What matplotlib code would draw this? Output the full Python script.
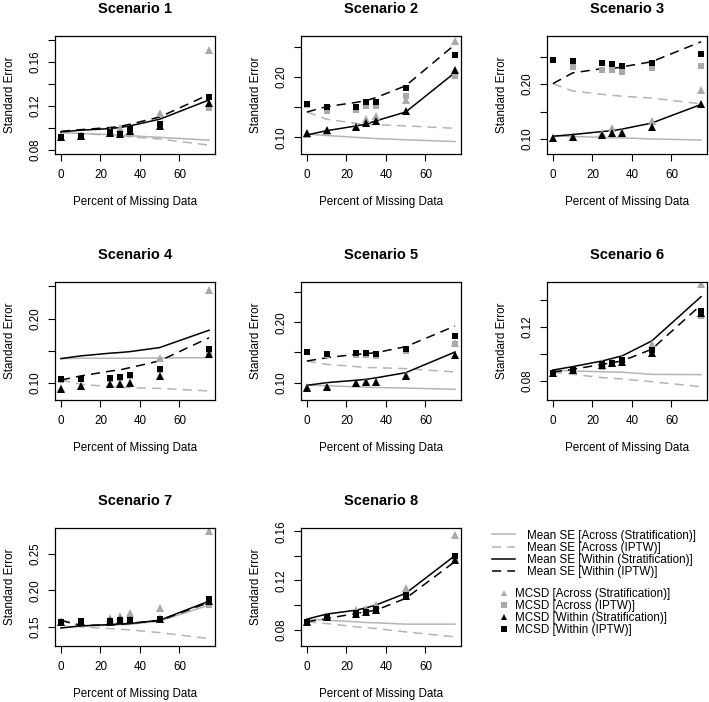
import matplotlib
matplotlib.use("Agg")
import matplotlib.pyplot as plt
from matplotlib.lines import Line2D

plt.rcParams['font.family'] = ['Liberation Sans', 'DejaVu Sans']

pct_missing = [0, 10, 25, 30, 35, 50, 75]
scenarios = ["Scenario %d" % i for i in range(1, 9)]

# one row per scenario, one value per percent missing
mean_across_strat = [
    [0.0960, 0.0950, 0.0940, 0.0935, 0.0930, 0.0915, 0.0890],
    [0.1055, 0.1030, 0.1000, 0.0990, 0.0980, 0.0960, 0.0930],
    [0.1050, 0.1045, 0.1030, 0.1020, 0.1020, 0.1000, 0.0980],
    [0.1375, 0.1380, 0.1380, 0.1380, 0.1380, 0.1385, 0.1390],
    [0.0956, 0.0950, 0.0930, 0.0925, 0.0920, 0.0910, 0.0890],
    [0.0881, 0.0874, 0.0868, 0.0866, 0.0865, 0.0849, 0.0847],
    [0.1486, 0.1510, 0.1525, 0.1530, 0.1535, 0.1580, 0.1798],
    [0.0885, 0.0876, 0.0863, 0.0857, 0.0855, 0.0844, 0.0844],
]
mean_across_iptw = [
    [0.0960, 0.0950, 0.0935, 0.0930, 0.0920, 0.0900, 0.0845],
    [0.1420, 0.1300, 0.1230, 0.1210, 0.1210, 0.1190, 0.1150],
    [0.2010, 0.1875, 0.1814, 0.1796, 0.1780, 0.1747, 0.1640],
    [0.1040, 0.0974, 0.0938, 0.0930, 0.0920, 0.0910, 0.0870],
    [0.1358, 0.1303, 0.1265, 0.1248, 0.1248, 0.1232, 0.1176],
    [0.0866, 0.0849, 0.0825, 0.0820, 0.0815, 0.0795, 0.0758],
    [0.1590, 0.1500, 0.1477, 0.1468, 0.1459, 0.1422, 0.1340],
    [0.0863, 0.0849, 0.0822, 0.0816, 0.0808, 0.0781, 0.0740],
]
mean_within_strat = [
    [0.0965, 0.0980, 0.0995, 0.1005, 0.1020, 0.1080, 0.1255],
    [0.1040, 0.1110, 0.1190, 0.1220, 0.1275, 0.1420, 0.2075],
    [0.1050, 0.1080, 0.1135, 0.1150, 0.1180, 0.1290, 0.1630],
    [0.1375, 0.1417, 0.1460, 0.1470, 0.1484, 0.1547, 0.1818],
    [0.0956, 0.1000, 0.1040, 0.1055, 0.1080, 0.1165, 0.1507],
    [0.0881, 0.0906, 0.0948, 0.0967, 0.0985, 0.1095, 0.1422],
    [0.1486, 0.1514, 0.1532, 0.1541, 0.1546, 0.1592, 0.1853],
    [0.0885, 0.0926, 0.0958, 0.0977, 0.1000, 0.1095, 0.1403],
]
mean_within_iptw = [
    [0.0970, 0.0985, 0.1005, 0.1015, 0.1035, 0.1100, 0.1305],
    [0.1420, 0.1510, 0.1580, 0.1610, 0.1660, 0.1855, 0.2540],
    [0.2010, 0.2206, 0.2285, 0.2285, 0.2316, 0.2410, 0.2775],
    [0.1040, 0.1104, 0.1180, 0.1200, 0.1234, 0.1340, 0.1700],
    [0.1358, 0.1413, 0.1469, 0.1480, 0.1496, 0.1595, 0.1937],
    [0.0866, 0.0886, 0.0923, 0.0935, 0.0948, 0.1034, 0.1361],
    [0.1590, 0.1523, 0.1523, 0.1537, 0.1550, 0.1587, 0.1835],
    [0.0863, 0.0890, 0.0931, 0.0945, 0.0958, 0.1054, 0.1354],
]
mcsd_across_strat = [
    [0.0920, 0.0930, 0.0970, 0.0997, 0.0980, 0.1140, 0.1710],
    [0.1060, 0.1110, 0.1180, 0.1300, 0.1360, 0.1620, 0.2600],
    [0.1010, 0.1040, 0.1100, 0.1196, 0.1130, 0.1320, 0.1887],
    [0.0920, 0.0950, 0.0980, 0.0990, 0.1000, 0.1390, 0.2448],
    [0.0920, 0.0940, 0.0990, 0.1020, 0.1010, 0.1130, 0.1662],
    [0.0857, 0.0880, 0.0930, 0.0940, 0.0960, 0.1076, 0.1513],
    [0.1570, 0.1570, 0.1628, 0.1647, 0.1693, 0.1752, 0.2807],
    [0.0870, 0.0910, 0.0960, 0.0970, 0.1000, 0.1136, 0.1573],
]
mcsd_across_iptw = [
    [0.0910, 0.0930, 0.0950, 0.0940, 0.0945, 0.1010, 0.1180],
    [0.1530, 0.1440, 0.1450, 0.1520, 0.1520, 0.1690, 0.2020],
    [0.2440, 0.2316, 0.2267, 0.2255, 0.2224, 0.2297, 0.2334],
    [0.1040, 0.1050, 0.1060, 0.1080, 0.1110, 0.1200, 0.1430],
    [0.1500, 0.1460, 0.1458, 0.1458, 0.1440, 0.1524, 0.1645],
    [0.0855, 0.0875, 0.0906, 0.0925, 0.0945, 0.0997, 0.1280],
    [0.1560, 0.1560, 0.1570, 0.1580, 0.1580, 0.1600, 0.1798],
    [0.0860, 0.0900, 0.0930, 0.0940, 0.0955, 0.1070, 0.1360],
]
mcsd_within_strat = [
    [0.0915, 0.0930, 0.0955, 0.0950, 0.0970, 0.1020, 0.1224],
    [0.1066, 0.1120, 0.1165, 0.1230, 0.1275, 0.1430, 0.2110],
    [0.1010, 0.1030, 0.1080, 0.1110, 0.1110, 0.1214, 0.1630],
    [0.0906, 0.0948, 0.0974, 0.0984, 0.1000, 0.1104, 0.1443],
    [0.0917, 0.0934, 0.0990, 0.1017, 0.1010, 0.1110, 0.1452],
    [0.0858, 0.0880, 0.0920, 0.0930, 0.0940, 0.1009, 0.1300],
    [0.1570, 0.1570, 0.1580, 0.1590, 0.1600, 0.1610, 0.1860],
    [0.0865, 0.0900, 0.0930, 0.0940, 0.0960, 0.1070, 0.1370],
]
mcsd_within_iptw = [
    [0.0915, 0.0930, 0.0960, 0.0950, 0.0988, 0.1036, 0.1285],
    [0.1550, 0.1496, 0.1507, 0.1580, 0.1580, 0.1816, 0.2360],
    [0.2450, 0.2420, 0.2390, 0.2377, 0.2334, 0.2395, 0.2560],
    [0.1050, 0.1060, 0.1068, 0.1090, 0.1120, 0.1210, 0.1520],
    [0.1513, 0.1480, 0.1490, 0.1490, 0.1469, 0.1551, 0.1772],
    [0.0857, 0.0879, 0.0928, 0.0935, 0.0953, 0.1026, 0.1317],
    [0.1569, 0.1578, 0.1578, 0.1592, 0.1600, 0.1615, 0.1876],
    [0.0863, 0.0904, 0.0937, 0.0945, 0.0967, 0.1081, 0.1395],
]

# y axis per panel: limits, tick positions, labels shown
ylims = [(0.0764, 0.1836), (0.0724, 0.268), (0.0725, 0.288), (0.0729, 0.257),
         (0.0713, 0.2665), (0.066, 0.153), (0.1239, 0.2853), (0.0666, 0.1627)]
yticks = [
    ([0.08, 0.10, 0.12, 0.14, 0.16, 0.18], ["0.08", "", "0.12", "", "0.16", ""]),
    ([0.10, 0.15, 0.20, 0.25], ["0.10", "", "0.20", ""]),
    ([0.10, 0.15, 0.20, 0.25], ["0.10", "", "0.20", ""]),
    ([0.10, 0.15, 0.20, 0.25], ["0.10", "", "0.20", ""]),
    ([0.10, 0.15, 0.20, 0.25], ["0.10", "", "0.20", ""]),
    ([0.08, 0.10, 0.12, 0.14], ["0.08", "", "0.12", ""]),
    ([0.15, 0.20, 0.25], ["0.15", "0.20", "0.25"]),
    ([0.08, 0.10, 0.12, 0.14, 0.16], ["0.08", "", "0.12", "", "0.16"]),
]

W, H = 709, 702
box_left = [55, 301, 547]
box_top = [36, 282, 528]
box_w, box_h = 160, 118

LGRAY = "#b4b4b4"
MGRAY = "#a9a9a9"
FS = 8.4

line_styles = [
    ("Mean SE [Across (Stratification)]", mean_across_strat, LGRAY, "-"),
    ("Mean SE [Across (IPTW)]", mean_across_iptw, LGRAY, (0, (6, 4))),
    ("Mean SE [Within (Stratification)]", mean_within_strat, "black", "-"),
    ("Mean SE [Within (IPTW)]", mean_within_iptw, "black", (0, (6, 4))),
]
point_styles = [
    ("MCSD [Across (Stratification)]", mcsd_across_strat, MGRAY, "^", 5.2),
    ("MCSD [Across (IPTW)]", mcsd_across_iptw, MGRAY, "s", 4.3),
    ("MCSD [Within (Stratification)]", mcsd_within_strat, "black", "^", 5.2),
    ("MCSD [Within (IPTW)]", mcsd_within_iptw, "black", "s", 4.3),
]

fig = plt.figure(figsize=(W / 100, H / 100), dpi=100)

for k, name in enumerate(scenarios):
    r, c = divmod(k, 3)
    ax = fig.add_axes([box_left[c] / W, 1 - (box_top[r] + box_h) / H, box_w / W, box_h / H])
    for lab, vals, col, ls in line_styles:
        ax.plot(pct_missing, vals[k], color=col, linestyle=ls, linewidth=1.1)
    for lab, vals, col, mk, ms in point_styles:
        ax.plot(pct_missing, vals[k], linestyle="none", marker=mk, markersize=ms,
                color=col, markeredgewidth=0)

    ax.set_xlim(-3, 78)
    ax.set_ylim(*ylims[k])
    ax.set_xticks([0, 20, 40, 60])
    ax.set_yticks(yticks[k][0])
    ax.set_yticklabels(yticks[k][1])
    ax.tick_params(direction="out", length=5, width=0.8, labelsize=FS, pad=6)
    ax.tick_params(axis="y", labelrotation=90, pad=5)
    for t in ax.get_yticklabels():
        t.set_va("center")
    for s in ax.spines.values():
        s.set_linewidth(0.9)

    ax.set_title(name, fontsize=10.5, fontweight="bold", pad=16.5)
    ax.set_xlabel("Percent of Missing Data", fontsize=FS)
    ax.xaxis.set_label_coords(0.5, -48 / box_h)
    ax.xaxis.label.set_va("center")
    ax.set_ylabel("Standard Error", fontsize=FS)
    ax.yaxis.set_label_coords(-45 / box_w, 0.5)
    ax.yaxis.label.set_va("center")

line_handles = [Line2D([], [], color=col, linestyle=ls, linewidth=1.1)
                for lab, vals, col, ls in line_styles]
fig.legend(line_handles, [s[0] for s in line_styles], loc="upper left",
           bbox_to_anchor=(492 / W, 1 - 529.5 / H), frameon=False, fontsize=FS,
           borderpad=0, borderaxespad=0, handlelength=2.0, handletextpad=1.0,
           labelspacing=0.02)
point_handles = [Line2D([], [], linestyle="none", marker=mk, markersize=ms * 0.85,
                        color=col, markeredgewidth=0)
                 for lab, vals, col, mk, ms in point_styles]
fig.legend(point_handles, [s[0] for s in point_styles], loc="upper left",
           bbox_to_anchor=(499 / W, 1 - 588.5 / H), frameon=False, fontsize=FS,
           borderpad=0, borderaxespad=0, handlelength=0.8, handletextpad=0.55,
           labelspacing=0.0)

fig.savefig("out.png", dpi=100)
